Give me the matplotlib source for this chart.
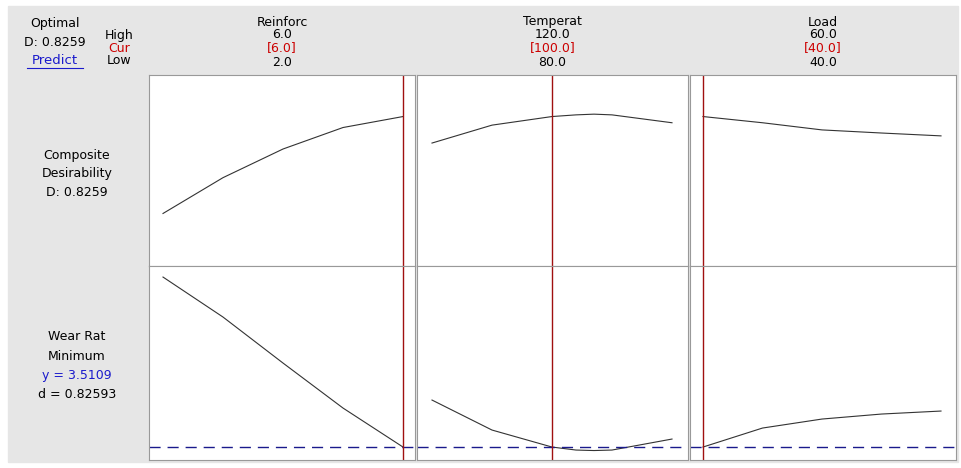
import matplotlib.pyplot as plt
from matplotlib.patches import Rectangle

factors = ["Reinforc", "Temperat", "Load"]
highs = ["6.0", "120.0", "60.0"]
curs = ["[6.0]", "[100.0]", "[40.0]"]
lows = ["2.0", "80.0", "40.0"]
cur_vals = [6.0, 100.0, 40.0]

reinf_x = [2, 3, 4, 5, 6]
reinf_d = [0.42, 0.57, 0.69, 0.78, 0.826]
reinf_w = [6.91, 6.11, 5.19, 4.29, 3.51]
temp_x = [80, 90, 100, 104, 107, 110, 120]
temp_d = [0.715, 0.79, 0.826, 0.833, 0.836, 0.833, 0.80]
temp_w = [4.45, 3.85, 3.51, 3.45, 3.44, 3.45, 3.67]
load_x = [40, 45, 50, 55, 60]
load_d = [0.826, 0.80, 0.77, 0.757, 0.745]
load_w = [3.51, 3.89, 4.07, 4.17, 4.23]
target = 3.5109

xs = [reinf_x, temp_x, load_x]
ds = [reinf_d, temp_d, load_d]
ws = [reinf_w, temp_w, load_w]

W, H = 962, 468
fig = plt.figure(figsize=(9.62, 4.68), dpi=100)
fig.patch.set_facecolor("white")
fig.patches.append(Rectangle((8 / W, 1 - 462 / H), 950 / W, 456 / H,
                             transform=fig.transFigure, color="#e6e6e6", zorder=-5))

def fx(px):
    return px / W

def fy(py):
    return 1 - py / H

# panel pixel extents and where low/high fall
panels = [(149, 415, 163, 403), (417, 688, 432, 672), (690, 956, 703, 941)]
rows = [(75, 266), (266, 460)]
lows_num = [2, 80, 40]
highs_num = [6, 120, 60]

for i, (l, r, pl, ph) in enumerate(panels):
    lo, hi = lows_num[i], highs_num[i]
    k = (hi - lo) / (ph - pl)
    xlim = (lo - (pl - l) * k, hi + (r - ph) * k)
    for j, (t, b) in enumerate(rows):
        ax = fig.add_axes([fx(l), fy(b), (r - l) / W, (b - t) / H])
        ax.set_facecolor("white")
        ax.set_xlim(xlim)
        if j == 0:
            ax.set_ylim(1 - (266 - 75) / 191 * 0.8, 1.0)
            ax.plot(xs[i], ds[i], color="#333333", lw=0.8)
        else:
            ax.set_ylim(target + (447 - 460) * 0.02, target + (447 - 266) * 0.02)
            ax.plot(xs[i], ws[i], color="#333333", lw=0.8)
            ax.axhline(target, color="#1a1a8c", lw=1, ls=(0, (8, 5)))
        ax.axvline(cur_vals[i], color="#a01010", lw=1)
        ax.set_xticks([])
        ax.set_yticks([])
        for s in ax.spines.values():
            s.set_color("#999999")
            s.set_linewidth(0.8)
    cx = (l + r) / 2
    fig.text(fx(cx), fy(22), factors[i], ha="center", va="center", fontsize=9)
    fig.text(fx(cx), fy(35), highs[i], ha="center", va="center", fontsize=9)
    fig.text(fx(cx), fy(48), curs[i], ha="center", va="center", fontsize=9, color="#cc0000")
    fig.text(fx(cx), fy(62), lows[i], ha="center", va="center", fontsize=9)

fig.text(fx(55), fy(24), "Optimal", ha="center", va="center", fontsize=9)
fig.text(fx(55), fy(42), "D: 0.8259", ha="center", va="center", fontsize=9)
fig.text(fx(55), fy(61), "Predict", ha="center", va="center", fontsize=9.5, color="#1a1acc")
fig.add_artist(plt.Line2D([fx(27), fx(83)], [fy(68), fy(68)], color="#1a1acc", lw=0.8))
fig.text(fx(119), fy(35), "High", ha="center", va="center", fontsize=9)
fig.text(fx(119), fy(48), "Cur", ha="center", va="center", fontsize=9, color="#cc0000")
fig.text(fx(119), fy(61), "Low", ha="center", va="center", fontsize=9)

fig.text(fx(77), fy(156), "Composite", ha="center", va="center", fontsize=9)
fig.text(fx(77), fy(174), "Desirability", ha="center", va="center", fontsize=9)
fig.text(fx(77), fy(193), "D: 0.8259", ha="center", va="center", fontsize=9)

fig.text(fx(77), fy(337), "Wear Rat", ha="center", va="center", fontsize=9)
fig.text(fx(77), fy(356), "Minimum", ha="center", va="center", fontsize=9)
fig.text(fx(77), fy(375), "y = 3.5109", ha="center", va="center", fontsize=9, color="#1a1acc")
fig.text(fx(77), fy(394), "d = 0.82593", ha="center", va="center", fontsize=9)

fig.savefig("out.png", dpi=100)
